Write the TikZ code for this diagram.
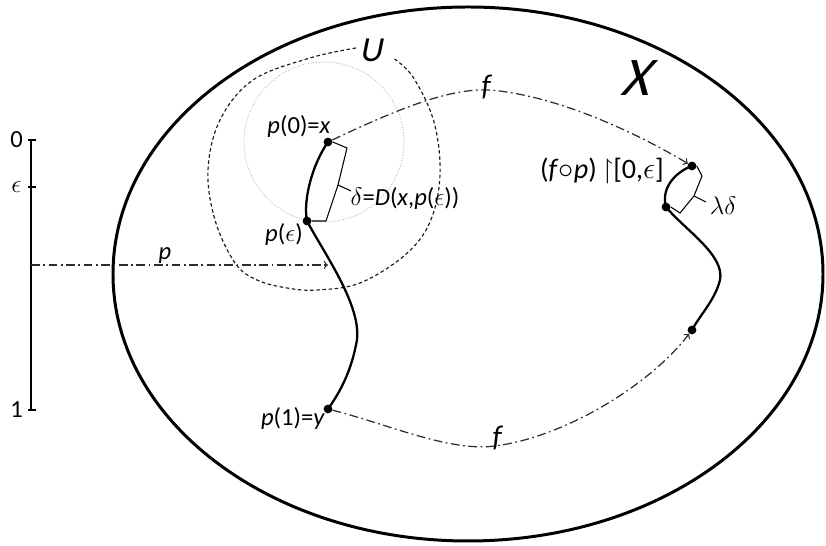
\documentclass[tikz,border=0pt]{standalone}
\usepackage{amssymb}
\usepackage{fontspec}
\setmainfont{Carlito}
\usetikzlibrary{positioning}

\begin{document}
\begin{tikzpicture}[
  x=0.02cm, y=-0.02cm,
  dot/.style={circle, fill=black, inner sep=0pt, minimum size=5pt},
  lbl/.style={font=\fontsize{14}{16}\selectfont, inner sep=1pt},
  pathline/.style={line width=1.3pt},
  map/.style={->, gray!35!black, line width=0.7pt, dash pattern=on 5pt off 2pt on 1pt off 2pt},
  brack/.style={line width=0.6pt},
  nbhd/.style={gray!20!black, line width=0.65pt, dash pattern=on 2pt off 1.5pt},
  ball/.style={gray!60, line width=0.5pt, densely dotted}
]
  \useasboundingbox (0,0) rectangle (826,546);

  \draw[line width=1.7pt] (468,274) ellipse [x radius=355, y radius=267];
  \begin{scope}[shift={(640,78)}, xslant=0.3]
    \node[font=\fontsize{31}{34}\selectfont, transform shape] (X) {X};
  \end{scope}
  \begin{scope}[shift={(373,50)}, xslant=0.2]
    \node[font=\fontsize{20}{22}\selectfont, transform shape] (U) {U};
  \end{scope}

  \draw[nbhd] plot[smooth, tension=0.6] coordinates {(356,48) (310,58) (253,80) (220,120)
    (208,170) (215,220) (235,263) (257,280) (287,288) (317,290) (360,283) (405,255)
    (430,222) (440,175) (434,122) (413,77) (393,58)};
  \draw[ball] (324,142) circle (80);

  \coordinate (s0) at (31,140);
  \coordinate (se) at (31,187);
  \coordinate (sp) at (31,265);
  \coordinate (s1) at (31,410);
  \draw[line width=1.1pt] (s0) -- (s1);
  \foreach \t in {s0,se,s1}
    \draw[line width=0.6pt] ([xshift=-1.5pt]\t) -- ([xshift=3pt]\t);
  \node[lbl] (l0) [left=0.12cm of s0] {0};
  \node[lbl] (le) [left=0.15cm of se] {$\epsilon$};
  \node[lbl] (l1) [left=0.12cm of s1] {1};

  \node[dot] (p0) at (328,142) {};
  \node[dot] (pe) at (307,221) {};
  \node[dot] (p1) at (328,409) {};
  \node[dot] (q0) at (692,166) {};
  \node[dot] (qe) at (666,207) {};
  \node[dot] (q1) at (692,330) {};
  \coordinate (ph) at (328,265);

  \draw[pathline] (p0.center) .. controls (312,165) and (303,200) .. (pe.center)
    .. controls (325,255) and (365,310) .. (356,345)
    .. controls (350,375) and (338,395) .. (p1.center);
  \draw[pathline] (q0.center) .. controls (680,170) and (660,185) .. (qe.center)
    .. controls (685,230) and (725,255) .. (720,280)
    .. controls (715,300) and (700,315) .. (q1.center);

  \draw[brack] (p0.east) -- (347,148) -- (338,185) -- (351,191);
  \draw[brack] (338,185) -- (326,221) -- (pe.east);
  \draw[brack] (q0.east) -- (702,176) -- (694,196) -- (706,202);
  \draw[brack] (694,196) -- (680,213) -- (qe.east);

  \draw[map] (sp) -- (ph);
  \draw[map] (p0) .. controls (400,108) and (450,88) .. (490,90)
    .. controls (560,96) and (640,135) .. (q0);
  \draw[map] (p1) .. controls (390,425) and (450,452) .. (495,446)
    .. controls (565,437) and (650,385) .. (q1);

  \node[lbl] (lp) at (165,256) {\textit{p}};
  \node[lbl, font=\fontsize{17}{19}\selectfont] (ftop) at (487,87) {\textit{f}};
  \node[lbl, font=\fontsize{17}{19}\selectfont] (fbot) at (498,438) {\textit{f}};
  \node[lbl] (lx) at (299,126) {\textit{p}(0)=\textit{x}};
  \node[lbl] (lpe) at (284,234) {\textit{p}($\epsilon$)};
  \node[lbl] (ly) at (293,418) {\textit{p}(1)=\textit{y}};
  \node[lbl] (ldelta) at (405,198) {$\delta$=\textit{D}(\textit{x},\textit{p}($\epsilon$))};
  \node[lbl] (llam) at (723,206) {$\lambda\delta$};
  \node[lbl, font=\fontsize{16}{18}\selectfont] (lfp) at (602,171)
    {(\textit{f}$\circ$\textit{p})\,$\upharpoonright$[0,$\epsilon$]};
\end{tikzpicture}
\end{document}
